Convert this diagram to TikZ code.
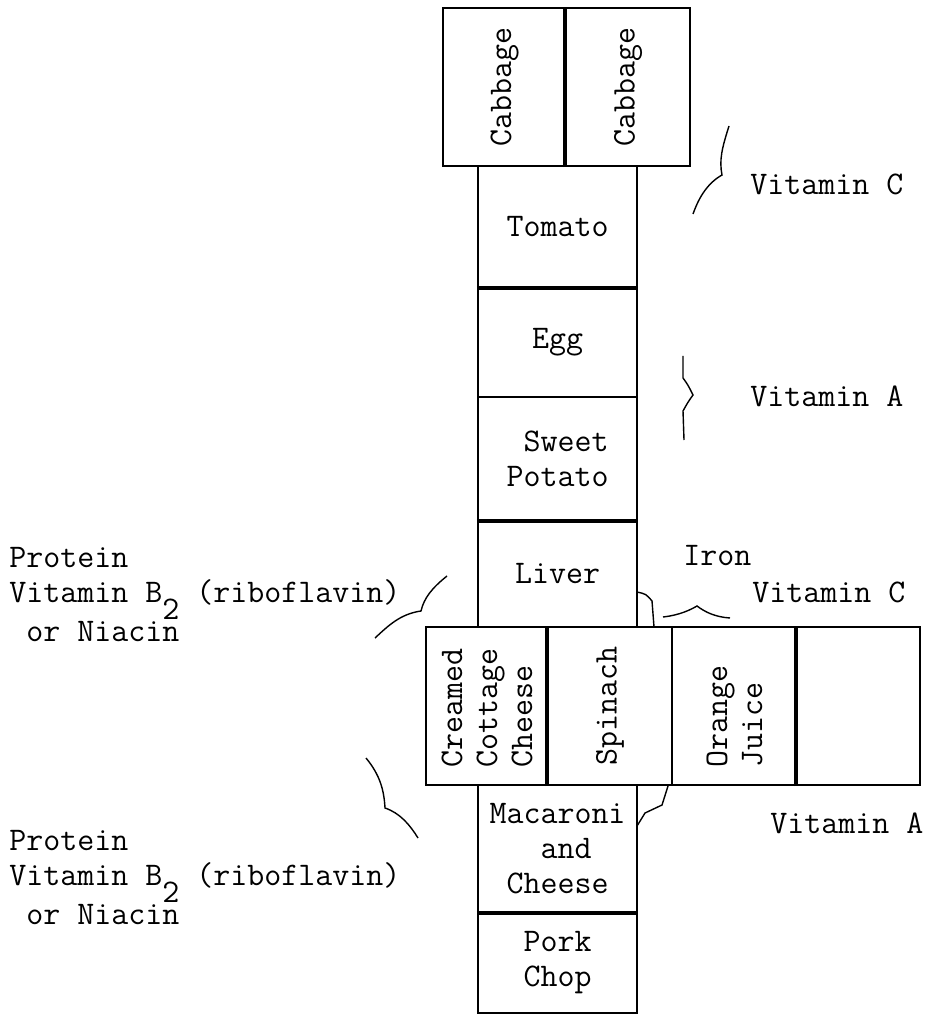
\documentclass[tikz,border=0pt]{standalone}
\begin{document}
\begin{tikzpicture}[x=0.5pt,y=-0.5pt,
  every node/.style={font=\ttfamily\fontsize{16.5pt}{17.5pt}\selectfont},
  food/.style={draw, line width=1.1pt, inner sep=0pt},
  heavy/.style={line width=2pt},
  brace/.style={line width=0.7pt},
  note/.style={anchor=base west, inner sep=0pt}]

\useasboundingbox (0,0) rectangle (932,1015);

\node[food, rotate=90, minimum width=79pt, minimum height=61.5pt] (cab1) at (504.5,87) {Cabbage};
\node[food, rotate=90, minimum width=79pt, minimum height=62pt] (cab2) at (628,87) {Cabbage};

\node[food, minimum width=79.5pt, minimum height=60.5pt] (tomato) at (557.5,226.5) {Tomato};
\node[food, minimum width=79.5pt, minimum height=55pt] (egg) at (557.5,342) {Egg};
\node[food, minimum width=79.5pt, minimum height=61.5pt, align=right] (sweet) at (557.5,458.5) {Sweet\\Potato};
\node[food, minimum width=79.5pt, minimum height=53.5pt] (liver) at (557.5,573.5) {Liver};

\node[food, rotate=90, minimum width=79pt, minimum height=61pt, text width=61pt, align=left] (cottage) at (487,706) {Creamed\\Cottage\\Cheese};
\node[food, rotate=90, minimum width=79pt, minimum height=62pt] (spinach) at (610,706) {Spinach};
\node[food, rotate=90, minimum width=79pt, minimum height=62.5pt, text width=61pt, align=left] (juice) at (734.5,706) {Orange\\Juice};
\node[food, rotate=90, minimum width=79pt, minimum height=61.5pt] (blank) at (858.5,706) {};

\node[food, minimum width=79.5pt, minimum height=63.5pt, align=left] (mac) at (557.5,848.5) {Macaroni\\~~~and\\~Cheese};
\node[food, minimum width=79.5pt, minimum height=50.5pt, align=center] (pork) at (557.5,962.5) {Pork\\Chop};

\draw[heavy] (cab2.north west) -- (cab2.north east);
\draw[heavy] (tomato.south west) -- (tomato.south east);
\draw[heavy] (sweet.south west) -- (sweet.south east);
\draw[heavy] (spinach.north west) -- (spinach.north east);
\draw[heavy] (blank.north west) -- (blank.north east);
\draw[heavy] (mac.south west) -- (mac.south east);

\node[note] (vitc1) at (750,195) {Vitamin C};
\node[note] (vita1) at (750,407) {Vitamin A};
\node[note] (iron) at (683,565) {Iron};
\node[note] (vitc2) at (752,602) {Vitamin C};
\node[note] (vita2) at (770,833) {Vitamin A};

\node[anchor=north west, inner sep=0pt, align=left] (prot1) at (9,547)
  {Protein\\Vitamin B\raisebox{-8.5pt}{2} (riboflavin)\\~or Niacin};
\node[anchor=north west, inner sep=0pt, align=left] (prot2) at (9,830)
  {Protein\\Vitamin B\raisebox{-8.5pt}{2} (riboflavin)\\~or Niacin};

\draw[brace] (729,126) .. controls (722,148) and (719,160) .. (722,175) .. controls (706,184) and (698,200) .. (693,214);
\draw[brace] (683,356) -- (683,378) .. controls (688,385) .. (693,395) .. controls (688,402) .. (683,411) -- (684,440);
\draw[brace] (447,576) .. controls (432,588) and (424,598) .. (421,611) .. controls (400,614) and (388,626) .. (375,638);
\draw[brace] (366,758) .. controls (380,775) and (384,790) .. (385,808) .. controls (400,813) and (410,825) .. (418,838);
\draw[brace] (637,592) .. controls (646,594) .. (652,601) -- (654,627);
\draw[brace] (663,617) .. controls (680,615) and (690,610) .. (697,606) .. controls (705,612) and (715,617) .. (730,618);
\draw[brace] (668,786) -- (662,805) -- (645,813) -- (637,826);
\end{tikzpicture}
\end{document}
